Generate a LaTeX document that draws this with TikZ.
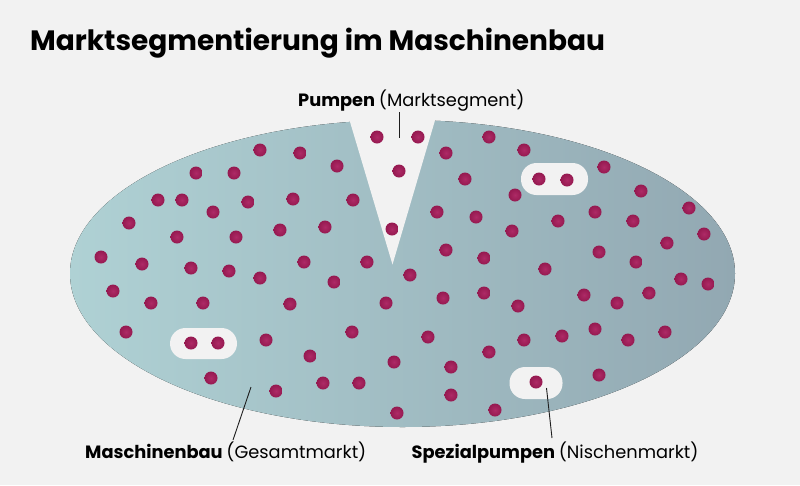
\documentclass[tikz,border=0pt]{standalone}
\usepackage{fontspec}
\setmainfont{Poppins}
\usetikzlibrary{calc}

\definecolor{bggray}{HTML}{F2F2F2}
\definecolor{tealleft}{HTML}{AFD1D4}
\definecolor{tealright}{HTML}{92A8B2}
\definecolor{dotred}{HTML}{951950}
\definecolor{dotlight}{HTML}{AE2A66}
\definecolor{leader}{HTML}{1E1E1E}

\tikzset{
  marktdot/.style={inner color=dotlight, outer color=dotred},
  nische/.style={fill=bggray, rounded corners=15.5pt},
  leaderline/.style={draw=leader, line width=0.9pt},
  labeltext/.style={font=\fontsize{17.8}{22}\selectfont, inner sep=0pt, anchor=base west, text=black}
}

\begin{document}
\begin{tikzpicture}[x=1pt, y=-1pt]

\fill[bggray] (0,0) rectangle (800,485);
\useasboundingbox (0,0) rectangle (800,485);

\node[anchor=base west, inner sep=0pt, font=\fontsize{28}{34}\selectfont\bfseries] (titel) at (30,50) {Marktsegmentierung im Maschinenbau};

% Gesamtmarkt
\coordinate (markt) at (402.5,273.5);
\fill[left color=tealleft, right color=tealright] (markt) ellipse [x radius=332.5pt, y radius=153.5pt];

% Keil fuer das Segment
\coordinate (keilL) at (343.5,100);
\coordinate (keilR) at (441,100);
\coordinate (keilS) at (392.5,264.5);
\fill[bggray] (keilL) -- (keilS) -- (keilR) -- cycle;

% Nischen
\fill[nische] (521,163) rectangle (588,195);
\fill[nische] (170,328) rectangle (237,359);
\fill[nische] (509.5,367) rectangle (562.5,399);

% Punkte
\foreach \px/\py in {377/137, 418/137, 399/171, 392/229,
  260/150, 300/153, 337/166, 196/173, 234/173, 158/200, 182/200, 213/212,
  248/202, 293/199, 353/200, 129/223, 177/237, 236/237, 280/230, 325/227,
  101/257, 142/264, 191/268, 229/271, 260/278, 304/262, 367/262, 334/282,
  113/291, 151/303, 203/303, 290/304, 386/303, 410/275,
  126/332, 191/343, 218/343, 266/340, 352/332, 310/356, 394/362, 211/378,
  276/391, 323/383, 359/383, 397/413,
  489/137, 446/153, 524/150, 465/179, 539/179, 567/180, 604/167, 515/195,
  641/191, 689/208, 437/212, 476/217, 512/231, 558/221, 595/212, 633/221,
  704/234, 667/243, 446/250, 484/258, 545/269, 599/252, 636/262, 681/279,
  708/284, 443/298, 484/293, 518/306, 584/295, 617/303, 649/293,
  428/337, 489/352, 524/340, 562/336, 595/329, 628/340, 665/332, 451/367,
  451/395, 495/410, 599/375, 536/382}
  \shade[marktdot] (\px,\py) circle (6.5pt);

% Beschriftungen
\node[labeltext] (segment) at (298,106) {\bfseries Pumpen \mdseries(Marktsegment)};
\node[labeltext] (gesamt) at (85,458) {\bfseries Maschinenbau \mdseries(Gesamtmarkt)};
\node[labeltext] (nischenlabel) at (411.5,458) {\bfseries Spezialpumpen \mdseries(Nischenmarkt)};

\coordinate (segmentkopf) at (399,112);
\coordinate (segmentfuss) at (399,138);
\coordinate (gesamtkopf) at (251,387);
\coordinate (gesamtfuss) at (233,440);
\coordinate (nischekopf) at (546.5,388);
\coordinate (nischefuss) at (552,438);

\draw[leaderline] (segmentkopf) -- (segmentfuss);
\draw[leaderline] (gesamtkopf) -- (gesamtfuss);
\draw[leaderline] (nischekopf) -- (nischefuss);

\end{tikzpicture}
\end{document}
